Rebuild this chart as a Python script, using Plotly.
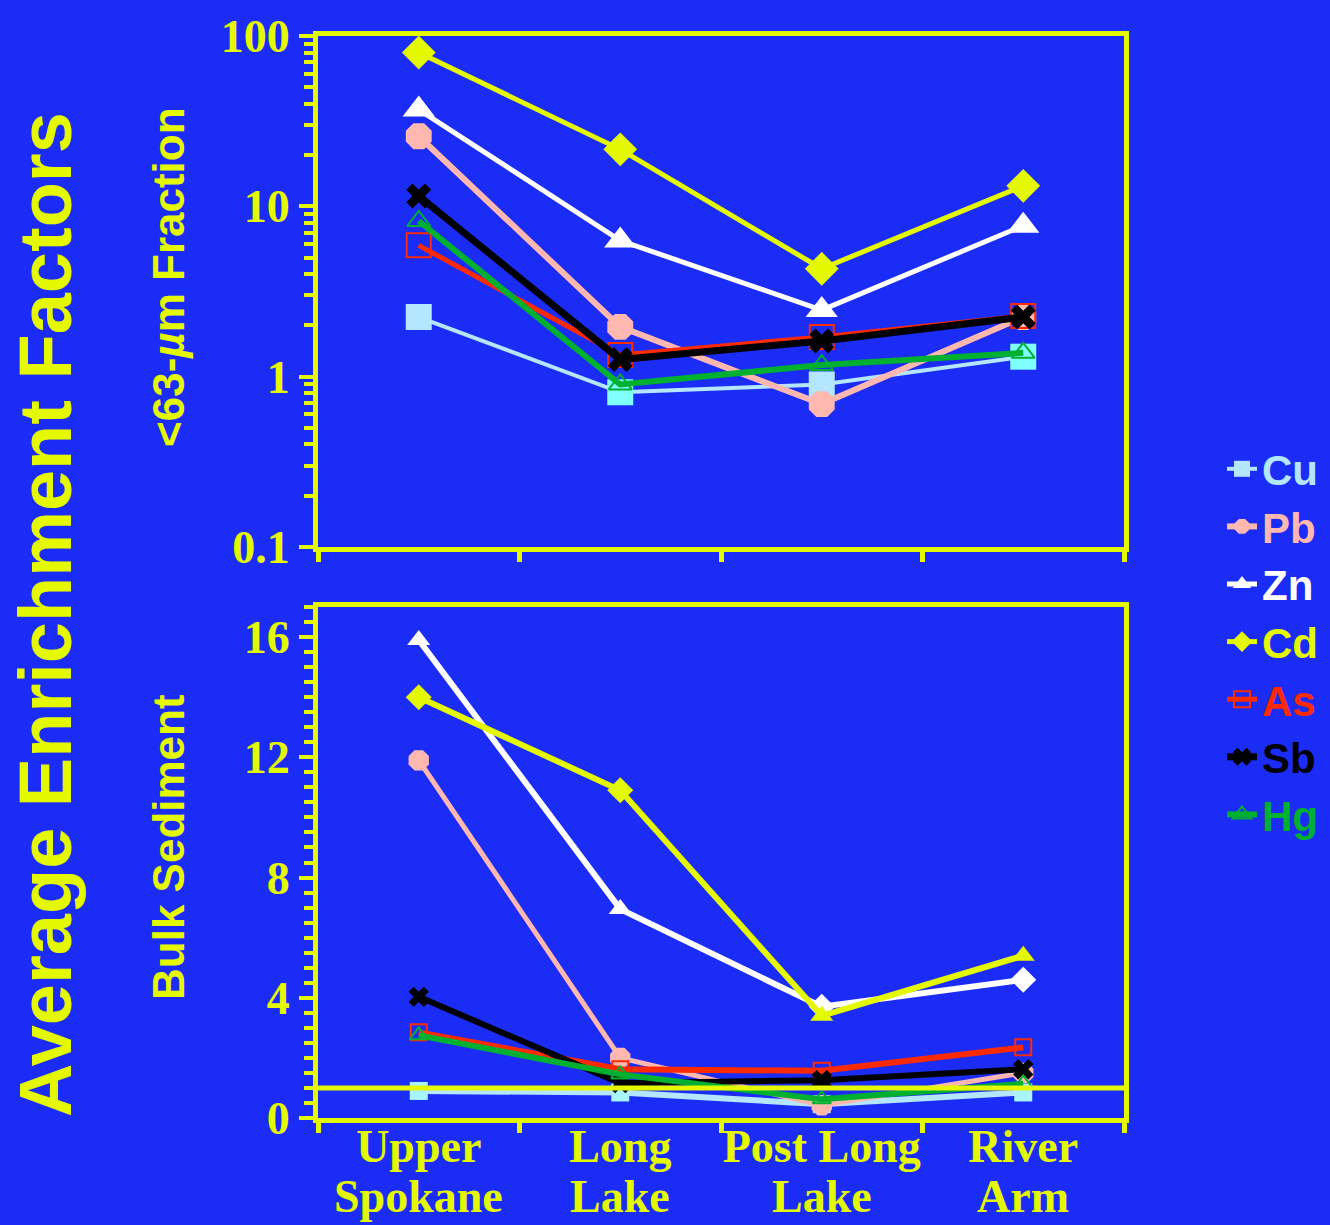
import math
import plotly.graph_objects as go

# ---------------- data ----------------
categories = ["Upper Spokane", "Long Lake", "Post Long Lake", "River Arm"]
label_line1 = ["Upper", "Long", "Post Long", "River"]
label_line2 = ["Spokane", "Lake", "Lake", "Arm"]
elements = ["Cu", "Pb", "Zn", "Cd", "As", "Sb", "Hg"]

# <63-um fraction (log axis)
fine_cu = [2.24, 0.81, 0.90, 1.31]
fine_pb = [25.8, 1.96, 0.69, 2.24]
fine_zn = [37.0, 6.3, 2.46, 7.7]
fine_cd = [80.0, 21.6, 4.3, 13.2]
fine_as = [5.9, 1.34, 1.71, 2.27]
fine_sb = [11.5, 1.26, 1.62, 2.24]
fine_hg = [8.2, 0.90, 1.17, 1.38]

# bulk sediment (linear axis)
bulk_cu = [0.90, 0.85, 0.46, 0.85]
bulk_pb = [11.9, 2.0, 0.42, 1.5]
bulk_zn = [15.9, 6.95, 3.7, 4.6]
bulk_cd = [14.0, 10.9, 3.4, 5.4]
bulk_as = [2.85, 1.62, 1.57, 2.35]
bulk_sb = [4.03, 1.16, 1.26, 1.62]
bulk_hg = [2.75, 1.45, 0.62, 1.14]

fine_tickvals = [0.1, 1, 10, 100]
fine_ticktext = ["0.1", "1", "10", "100"]
bulk_tickvals = [0, 4, 8, 12, 16]
reference_level = 1

fine_data = [fine_cu, fine_pb, fine_zn, fine_cd, fine_as, fine_sb, fine_hg]
bulk_data = [bulk_cu, bulk_pb, bulk_zn, bulk_cd, bulk_as, bulk_sb, bulk_hg]

# ---------------- styles ----------------
BG = "#1b2cf6"
YEL = "#e4f800"
W, H = 1330, 1225

styles = {
    "Cu": dict(color="#b5e6ff", sym="square", fs=26, bs=18, flw=4, blw=6, mlw=0,
               fmc=["#b5e6ff", "#80ffff", "#b5e6ff", "#80ffff"],
               bmc=["#a8f4ff", "#a8f4ff", "#a8f4ff", "#a8f4ff"]),
    "Pb": dict(color="#ffb8b0", sym="octagon", fs=28, bs=22, flw=6, blw=5, mlw=0),
    "Zn": dict(color="#ffffff", sym="triangle-up", fs=28, bs=20, flw=5, blw=6, mlw=0,
               bsym=["triangle-up", "triangle-up", "diamond", "diamond"]),
    "Cd": dict(color=YEL, sym="diamond", fs=26, bs=20, flw=5, blw=6, mlw=0,
               bsym=["diamond", "diamond", "triangle-up", "triangle-up"]),
    "As": dict(color="#ff2a00", sym="square-open", fs=24, bs=16, flw=5, blw=6, mlw=2),
    "Sb": dict(color="#000000", sym="x", fs=22, bs=18, flw=7, blw=6, mlw=0),
    "Hg": dict(color="#00b030", sym="triangle-up-open", fs=20, bs=16, flw=6, blw=6, mlw=2),
}

fig = go.Figure()

for name, fvals, bvals in zip(elements, fine_data, bulk_data):
    s = styles[name]
    fig.add_trace(go.Scatter(
        x=categories, y=fvals, xaxis="x", yaxis="y",
        mode="lines+markers",
        name=f'<span style="color:{s["color"]}">{name}</span>',
        legendgroup=name, showlegend=True,
        line=dict(color=s["color"], width=s["flw"]),
        marker=dict(symbol=s["sym"], size=s["fs"], color=s.get("fmc", s["color"]),
                    line=dict(width=s["mlw"], color=s["color"])),
    ))
    fig.add_trace(go.Scatter(
        x=categories, y=bvals, xaxis="x2", yaxis="y2",
        mode="lines+markers",
        name=name, legendgroup=name, showlegend=False,
        line=dict(color=s["color"], width=s["blw"]),
        marker=dict(symbol=s.get("bsym", s["sym"]), size=s["bs"],
                    color=s.get("bmc", s["color"]),
                    line=dict(width=s["mlw"], color=s["color"])),
    ))

xdom = [318 / W, 1124 / W]
top_dom = [1 - 547 / H, 1 - 36 / H]
bot_dom = [1 - 1118 / H, 1 - 607 / H]

tickfont = dict(family="Liberation Serif, Times New Roman, serif", size=46,
                color=YEL, weight="bold")
xlabfont = dict(tickfont, size=46)
common_x = dict(
    type="category", categoryorder="array", categoryarray=categories,
    range=[-0.5, 3.5], tickson="boundaries", tickangle=0,
    showline=True, mirror=True, linecolor=YEL, linewidth=5,
    ticks="outside", ticklen=10, tickwidth=5, tickcolor=YEL,
    showgrid=False, zeroline=False, domain=xdom,
)
common_y = dict(
    showline=True, mirror=True, linecolor=YEL, linewidth=5,
    ticks="outside", ticklen=14, tickwidth=4, tickcolor=YEL,
    showgrid=False, zeroline=False, tickfont=tickfont,
)

minor_log = [m * 10 ** e for e in (-1, 0, 1) for m in range(2, 10)]

fig.update_layout(
    width=W, height=H,
    paper_bgcolor=BG, plot_bgcolor=BG,
    margin=dict(l=0, r=0, t=0, b=0, autoexpand=False),
    xaxis=dict(common_x, anchor="y", showticklabels=False),
    yaxis=dict(common_y, type="log", range=[-1, 2], domain=top_dom, anchor="x",
               tickmode="array", tickvals=fine_tickvals, ticktext=fine_ticktext,
               minor=dict(tickmode="array", tickvals=minor_log, ticks="outside",
                          ticklen=9, tickwidth=4, tickcolor=YEL, showgrid=False)),
    xaxis2=dict(common_x, anchor="y2", showticklabels=True,
                tickmode="array", tickvals=categories, ticktext=label_line1,
                tickfont=xlabfont, ticklabelstandoff=-16),
    yaxis2=dict(common_y, range=[0, 17], domain=bot_dom, anchor="x2",
                tickmode="array", tickvals=bulk_tickvals,
                minor=dict(dtick=0.5, ticks="outside", ticklen=9, tickwidth=4,
                           tickcolor=YEL, showgrid=False)),
    legend=dict(
        x=1222 / W, y=1 - 435 / H, xanchor="left", yanchor="top",
        bgcolor="rgba(0,0,0,0)", borderwidth=0,
        font=dict(family="Liberation Sans, Arial, sans-serif", size=42,
                  color=YEL, weight="bold"),
        traceorder="normal", itemsizing="trace", tracegroupgap=0,
    ),
    showlegend=True,
)

# horizontal reference lines at enrichment factor = 1
fig.add_shape(type="line", xref="x domain", x0=0, x1=1, yref="y",
              y0=math.log10(reference_level), y1=math.log10(reference_level),
              line=dict(color=YEL, width=5), layer="above")
fig.add_shape(type="line", xref="x2 domain", x0=0, x1=1, yref="y2",
              y0=reference_level, y1=reference_level,
              line=dict(color=YEL, width=5), layer="above")

# second line of category labels
for cat, txt in zip(categories, label_line2):
    fig.add_annotation(x=cat, xref="x2", y=1 - 1196 / H, yref="paper",
                       text=txt, showarrow=False, yanchor="middle",
                       font=xlabfont)

title_font = "Liberation Sans Narrow, Arial Narrow, Liberation Sans, Arial, sans-serif"
fig.add_annotation(x=45 / W, y=1 - 615 / H, xref="paper", yref="paper",
                   text="Average Enrichment Factors", textangle=-90,
                   showarrow=False, xanchor="center", yanchor="middle",
                   font=dict(family=title_font, size=74, color=YEL, weight="bold"))
fig.add_annotation(x=168 / W, y=1 - 277 / H, xref="paper", yref="paper",
                   text="&lt;63-<i>µ</i>m Fraction", textangle=-90,
                   showarrow=False, xanchor="center", yanchor="middle",
                   font=dict(family=title_font, size=44, color=YEL, weight="bold"))
fig.add_annotation(x=168 / W, y=1 - 847 / H, xref="paper", yref="paper",
                   text="Bulk Sediment", textangle=-90,
                   showarrow=False, xanchor="center", yanchor="middle",
                   font=dict(family=title_font, size=44, color=YEL, weight="bold"))

fig.write_html("out.html")
